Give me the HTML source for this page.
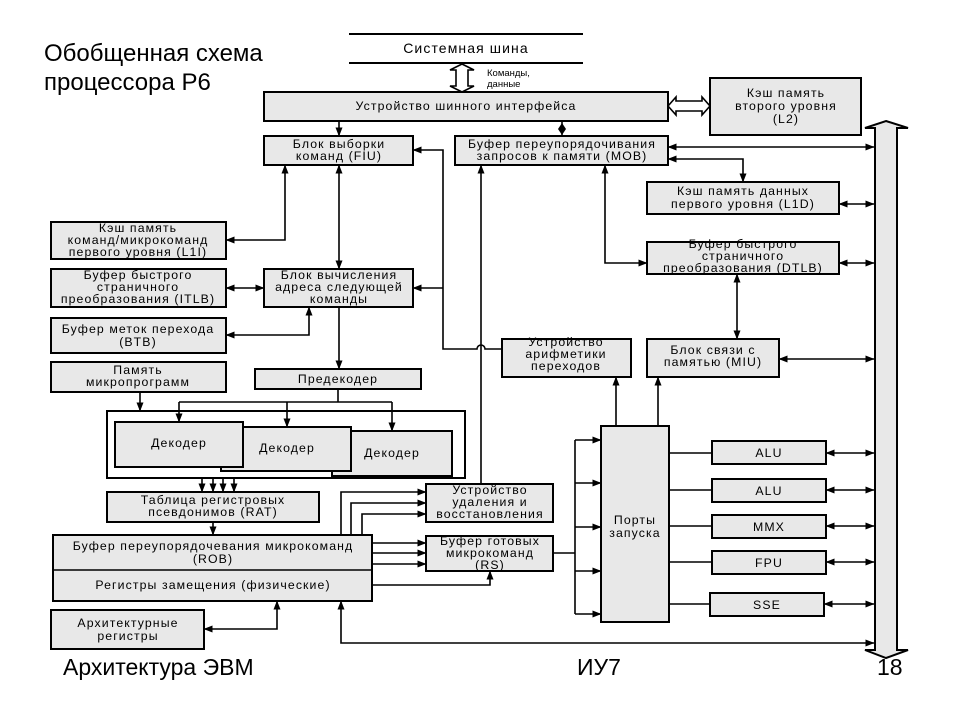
<!DOCTYPE html>
<html><head><meta charset="utf-8"><style>
html,body{margin:0;padding:0;background:#fff;}
svg{display:block;}
text{font-family:"Liberation Sans",Arial,sans-serif;fill:#000;}
.b{fill:#e8e8e8;stroke:#000;stroke-width:2;}
.l{fill:none;stroke:#000;stroke-width:1.6;}
.t{font-size:12.3px;text-anchor:middle;letter-spacing:1.1px;}
</style></head><body>
<svg width="961" height="710" viewBox="0 0 961 710" xmlns="http://www.w3.org/2000/svg">
<defs>
<marker id="a" markerWidth="9" markerHeight="7" refX="8.5" refY="3.5" orient="auto" markerUnits="userSpaceOnUse"><path d="M0,0 L9,3.5 L0,7 z" fill="#000"/></marker>
<marker id="s" markerWidth="9" markerHeight="7" refX="0.5" refY="3.5" orient="auto" markerUnits="userSpaceOnUse"><path d="M9,0 L0,3.5 L9,7 z" fill="#000"/></marker>
</defs>
<rect width="961" height="710" fill="#fff"/>
<text x="44" y="61" font-size="24">Обобщенная схема</text>
<text x="44" y="90" font-size="24">процессора Р6</text>
<text x="63" y="675" font-size="23">Архитектура ЭВМ</text>
<text x="577" y="675" font-size="23">ИУ7</text>
<text x="877" y="675" font-size="23">18</text>

<line x1="349" y1="34" x2="583" y2="34" stroke="#000" stroke-width="2"/>
<line x1="349" y1="63" x2="583" y2="63" stroke="#000" stroke-width="2"/>
<text class="t" x="466" y="53" style="font-size:14px">Системная шина</text>
<path d="M462,64 L474,70 L468,70 L468,86 L474,86 L462,92 L450,86 L456,86 L456,70 L450,70 z" fill="#fff" stroke="#000" stroke-width="1.6"/>
<text x="487" y="76" font-size="9.5">Команды,</text>
<text x="487" y="87" font-size="9.5">данные</text>

<rect class="b" x="264" y="92" width="404" height="29"/>
<text class="t" x="466" y="110">Устройство шинного интерфейса</text>
<path d="M668,106 L676,97 L676,101 L702,101 L702,97 L710,106 L702,115 L702,111 L676,111 L676,115 z" fill="#fff" stroke="#000" stroke-width="1.6"/>
<rect class="b" x="710" y="78" width="151" height="57"/>
<text class="t" x="786" y="97">Кэш память</text>
<text class="t" x="786" y="110">второго уровня</text>
<text class="t" x="786" y="123">(L2)</text>

<path d="M886,121 L908,128 L897,128 L897,650 L908,650 L886,658 L865,650 L875,650 L875,128 L865,128 z" fill="#e8e8e8" stroke="#000" stroke-width="2"/>

<line class="l" x1="339" y1="121" x2="339" y2="136" marker-end="url(#a)"/>
<rect class="b" x="264" y="136" width="149" height="29"/>
<text class="t" x="339" y="148">Блок выборки</text>
<text class="t" x="339" y="160">команд (FIU)</text>

<line class="l" x1="562" y1="121" x2="562" y2="136"/>
<path d="M562,123 L566,129 L562,135 L558,129 z" fill="#000"/>
<rect class="b" x="455" y="136" width="213" height="29"/>
<text class="t" x="562" y="148">Буфер переупорядочивания</text>
<text class="t" x="562" y="160">запросов к памяти (MOB)</text>
<line class="l" x1="668" y1="147" x2="874" y2="147" marker-start="url(#s)" marker-end="url(#a)"/>
<polyline class="l" points="668,159 743,159 743,182" marker-start="url(#s)" marker-end="url(#a)"/>

<rect class="b" x="647" y="182" width="192" height="32"/>
<text class="t" x="743" y="195">Кэш память данных</text>
<text class="t" x="743" y="208">первого уровня  (L1D)</text>
<line class="l" x1="839" y1="204" x2="874" y2="204" marker-start="url(#s)" marker-end="url(#a)"/>

<rect class="b" x="647" y="242" width="192" height="32"/>
<text class="t" x="743" y="248">Буфер быстрого</text>
<text class="t" x="743" y="260">страничного</text>
<text class="t" x="743" y="272">преобразования (DTLB)</text>
<line class="l" x1="839" y1="263" x2="874" y2="263" marker-start="url(#s)" marker-end="url(#a)"/>
<polyline class="l" points="605,165 605,263 647,263" marker-start="url(#s)" marker-end="url(#a)"/>
<line class="l" x1="737" y1="274" x2="737" y2="339" marker-start="url(#s)" marker-end="url(#a)"/>

<rect class="b" x="647" y="339" width="132" height="38"/>
<text class="t" x="713" y="354">Блок связи с</text>
<text class="t" x="713" y="366">памятью (MIU)</text>
<line class="l" x1="779" y1="359" x2="874" y2="359" marker-start="url(#s)" marker-end="url(#a)"/>

<rect class="b" x="502" y="339" width="129" height="38"/>
<text class="t" x="566" y="346">Устройство</text>
<text class="t" x="566" y="358">арифметики</text>
<text class="t" x="566" y="370">переходов</text>

<path class="l" d="M502,349 L485,349 A4,4 0 0 0 477,349 L443,349 L443,150 L413,150" marker-end="url(#a)"/>
<line class="l" x1="443" y1="288" x2="413" y2="288" marker-end="url(#a)"/>
<line class="l" x1="481" y1="484" x2="481" y2="165" marker-end="url(#a)"/>

<rect class="b" x="51" y="222" width="175" height="37"/>
<text class="t" x="138" y="232">Кэш память</text>
<text class="t" x="138" y="244">команд/микрокоманд</text>
<text class="t" x="138" y="256">первого уровня  (L1I)</text>
<polyline class="l" points="285,165 285,240 226,240" marker-start="url(#s)" marker-end="url(#a)"/>

<rect class="b" x="51" y="269" width="175" height="38"/>
<text class="t" x="138" y="279">Буфер быстрого</text>
<text class="t" x="138" y="291">страничного</text>
<text class="t" x="138" y="303">преобразования (ITLB)</text>
<line class="l" x1="226" y1="288" x2="264" y2="288" marker-start="url(#s)" marker-end="url(#a)"/>

<rect class="b" x="264" y="269" width="149" height="38"/>
<text class="t" x="339" y="279">Блок вычисления</text>
<text class="t" x="339" y="291">адреса следующей</text>
<text class="t" x="339" y="303">команды</text>
<line class="l" x1="339" y1="165" x2="339" y2="269" marker-start="url(#s)" marker-end="url(#a)"/>

<rect class="b" x="51" y="318" width="175" height="35"/>
<text class="t" x="138" y="333">Буфер меток перехода</text>
<text class="t" x="138" y="346">(BTB)</text>
<polyline class="l" points="309,307 309,335 226,335" marker-start="url(#s)" marker-end="url(#a)"/>
<line class="l" x1="339" y1="307" x2="339" y2="369" marker-end="url(#a)"/>

<rect class="b" x="51" y="362" width="175" height="30"/>
<text class="t" x="138" y="374">Память</text>
<text class="t" x="138" y="386">микропрограмм</text>
<line class="l" x1="140" y1="392" x2="140" y2="411" marker-end="url(#a)"/>
<rect class="b" x="255" y="369" width="166" height="20"/>
<text class="t" x="338" y="383">Предекодер</text>
<line class="l" x1="338" y1="389" x2="338" y2="402"/>
<line class="l" x1="179" y1="402" x2="392" y2="402"/>

<rect x="107" y="411" width="358" height="67" fill="#fff" stroke="#000" stroke-width="2"/>
<rect class="b" x="332" y="431" width="120" height="45"/>
<text class="t" x="392" y="457">Декодер</text>
<rect class="b" x="221" y="427" width="130" height="44"/>
<text class="t" x="287" y="452">Декодер</text>
<rect class="b" x="115" y="422" width="128" height="45"/>
<text class="t" x="179" y="447">Декодер</text>
<line class="l" x1="179" y1="402" x2="179" y2="422" marker-end="url(#a)"/>
<line class="l" x1="287" y1="402" x2="287" y2="427" marker-end="url(#a)"/>
<line class="l" x1="392" y1="402" x2="392" y2="431" marker-end="url(#a)"/>

<line class="l" x1="202" y1="478" x2="202" y2="492" marker-end="url(#a)"/>
<line class="l" x1="213" y1="478" x2="213" y2="492" marker-end="url(#a)"/>
<line class="l" x1="223" y1="478" x2="223" y2="492" marker-end="url(#a)"/>
<line class="l" x1="234" y1="478" x2="234" y2="492" marker-end="url(#a)"/>

<rect class="b" x="107" y="492" width="212" height="30"/>
<text class="t" x="213" y="504">Таблица регистровых</text>
<text class="t" x="213" y="516">псевдонимов (RAT)</text>
<line class="l" x1="213" y1="522" x2="213" y2="535" marker-end="url(#a)"/>

<rect class="b" x="53" y="535" width="319" height="66"/>
<line x1="53" y1="570" x2="372" y2="570" stroke="#000" stroke-width="1.5"/>
<text class="t" x="213" y="550">Буфер  переупорядочевания микрокоманд</text>
<text class="t" x="213" y="563">(ROB)</text>
<text class="t" x="213" y="589">Регистры замещения (физические)</text>

<rect class="b" x="51" y="610" width="153" height="39"/>
<text class="t" x="128" y="627">Архитектурные</text>
<text class="t" x="128" y="640">регистры</text>
<polyline class="l" points="277,601 277,629 204,629" marker-start="url(#s)" marker-end="url(#a)"/>
<polyline class="l" points="341,601 341,643 874,643" marker-start="url(#s)" marker-end="url(#a)"/>

<rect class="b" x="426" y="484" width="127" height="38"/>
<text class="t" x="490" y="494">Устройство</text>
<text class="t" x="490" y="506">удаления и</text>
<text class="t" x="490" y="518">восстановления</text>
<polyline class="l" points="341,535 341,492 426,492" marker-end="url(#a)"/>
<polyline class="l" points="351,535 351,503 426,503" marker-end="url(#a)"/>
<polyline class="l" points="362,535 362,514 426,514" marker-end="url(#a)"/>

<rect class="b" x="426" y="536" width="127" height="35"/>
<text class="t" x="490" y="545">Буфер готовых</text>
<text class="t" x="490" y="557">микрокоманд</text>
<text class="t" x="490" y="569">(RS)</text>
<line class="l" x1="372" y1="543" x2="426" y2="543" marker-end="url(#a)"/>
<line class="l" x1="372" y1="553" x2="426" y2="553" marker-end="url(#a)"/>
<line class="l" x1="372" y1="564" x2="426" y2="564" marker-end="url(#a)"/>
<polyline class="l" points="372,585 490,585 490,571" marker-end="url(#a)"/>
<line class="l" x1="553" y1="553" x2="575" y2="553"/>
<line class="l" x1="575" y1="440" x2="575" y2="614"/>
<line class="l" x1="575" y1="440" x2="601" y2="440" marker-end="url(#a)"/>
<line class="l" x1="575" y1="483" x2="601" y2="483" marker-end="url(#a)"/>
<line class="l" x1="575" y1="527" x2="601" y2="527" marker-end="url(#a)"/>
<line class="l" x1="575" y1="571" x2="601" y2="571" marker-end="url(#a)"/>
<line class="l" x1="575" y1="614" x2="601" y2="614" marker-end="url(#a)"/>

<rect class="b" x="601" y="426" width="68" height="196"/>
<text class="t" x="635" y="524">Порты</text>
<text class="t" x="635" y="537">запуска</text>
<line class="l" x1="616" y1="426" x2="616" y2="377" marker-end="url(#a)"/>
<line class="l" x1="658" y1="426" x2="658" y2="377" marker-end="url(#a)"/>

<line class="l" x1="669" y1="453" x2="712" y2="453"/>
<line class="l" x1="669" y1="490" x2="712" y2="490"/>
<line class="l" x1="669" y1="526" x2="712" y2="526"/>
<line class="l" x1="669" y1="562" x2="712" y2="562"/>
<line class="l" x1="669" y1="604" x2="710" y2="604"/>
<rect class="b" x="712" y="441" width="114" height="23"/><text class="t" x="769" y="457">ALU</text>
<rect class="b" x="712" y="479" width="114" height="23"/><text class="t" x="769" y="495">ALU</text>
<rect class="b" x="712" y="515" width="114" height="23"/><text class="t" x="769" y="531">MMX</text>
<rect class="b" x="712" y="551" width="114" height="23"/><text class="t" x="769" y="567">FPU</text>
<rect class="b" x="710" y="593" width="114" height="23"/><text class="t" x="767" y="609">SSE</text>
<line class="l" x1="826" y1="453" x2="874" y2="453" marker-start="url(#s)" marker-end="url(#a)"/>
<line class="l" x1="826" y1="490" x2="874" y2="490" marker-start="url(#s)" marker-end="url(#a)"/>
<line class="l" x1="826" y1="526" x2="874" y2="526" marker-start="url(#s)" marker-end="url(#a)"/>
<line class="l" x1="826" y1="562" x2="874" y2="562" marker-start="url(#s)" marker-end="url(#a)"/>
<line class="l" x1="824" y1="604" x2="874" y2="604" marker-start="url(#s)" marker-end="url(#a)"/>
</svg>
</body></html>
